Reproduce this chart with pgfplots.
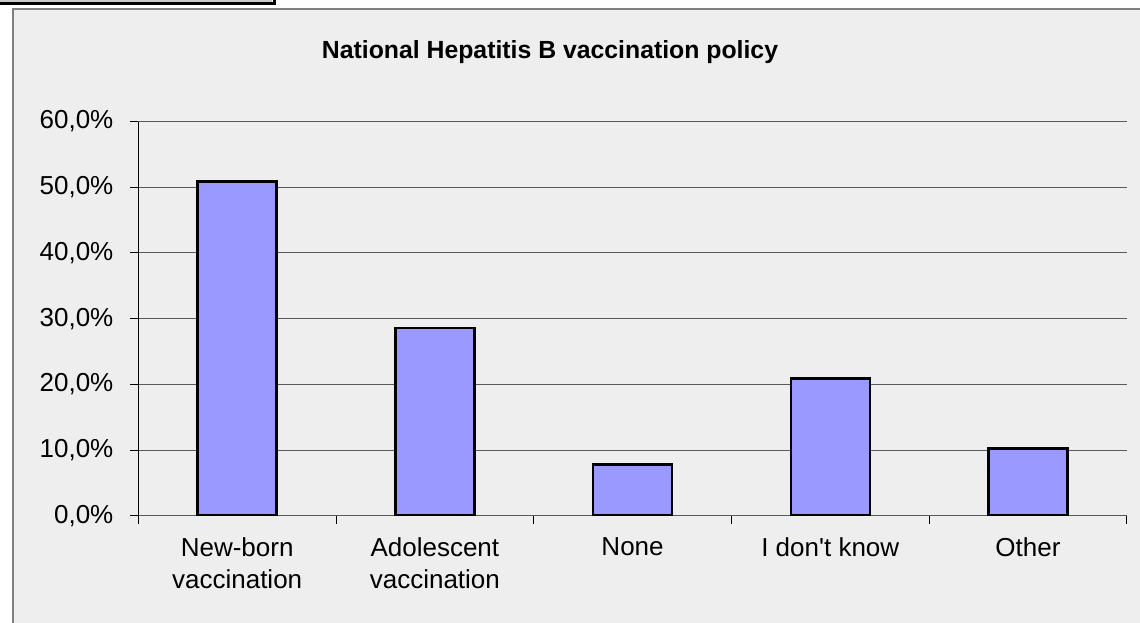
\documentclass[border=0pt]{standalone}
\usepackage{fontspec}
\setmainfont{Liberation Sans}
\usepackage{pgfplots}
\pgfplotsset{compat=1.18}

\definecolor{panelgray}{RGB}{238,238,238}
\definecolor{framegray}{RGB}{128,128,128}
\definecolor{gridgray}{RGB}{90,90,90}
\definecolor{barblue}{RGB}{153,153,255}
\definecolor{lightedge}{RGB}{200,200,200}

\begin{document}
\begin{tikzpicture}
% page and chart panel (one unit = one pixel at 96 dpi)
\begin{scope}[x=0.75pt,y=-0.75pt]
  \fill[white] (0,0) rectangle (1140,623);
  \fill[lightedge] (0,0) rectangle (272,2);
  \draw[black,line width=2.25pt] (0,3.5) -- (274.5,3.5) -- (274.5,0);
  \fill[panelgray] (13,9) rectangle (1140,623);
  \draw[framegray,line width=0.9pt] (13,623) -- (13,9) -- (1140,9);
\end{scope}

\begin{axis}[
  at={(103.725pt,-386.8pt)}, anchor=south west,
  scale only axis,
  width=741.4pt, height=295.65pt,
  xmin=0.5, xmax=5.5, ymin=0, ymax=60,
  xtick={0.5,1.5,...,5.5},
  x tick label as interval,
  xticklabels={{New-born\\vaccination},{Adolescent\\vaccination},{None},{I don\textquotesingle t know},{Other}},
  ytick={0,10,20,30,40,50,60},
  yticklabels={{0,0\%},{10,0\%},{20,0\%},{30,0\%},{40,0\%},{50,0\%},{60,0\%}},
  ymajorgrids,
  grid style={line width=0.75pt, gridgray},
  axis x line*=bottom,
  axis y line*=left,
  x axis line style={gridgray, line width=0.75pt},
  y axis line style={black, line width=0.75pt},
  tick align=outside,
  major tick length=6pt,
  tick style={black, line width=0.75pt},
  ticklabel style={font=\fontsize{19.5}{24}\selectfont},
  xticklabel style={align=center, anchor=north, inner sep=0pt, yshift=-10.25pt},
  yticklabel style={anchor=east, inner sep=0pt, xshift=-12.5pt},
  ybar, bar width=59.25pt,
]
\addplot[fill=barblue, draw=black, line width=1.9pt]
  coordinates {(1,50.9) (2,28.6) (3,7.8) (4,20.9) (5,10.2)};
\end{axis}

\node[anchor=base, font=\bfseries\fontsize{18.6}{22}\selectfont]
  at (412.5pt,-44.25pt) {National Hepatitis B vaccination policy};

\pgfresetboundingbox
\useasboundingbox (0,0) rectangle (855pt,-467.25pt);
\end{tikzpicture}
\end{document}
